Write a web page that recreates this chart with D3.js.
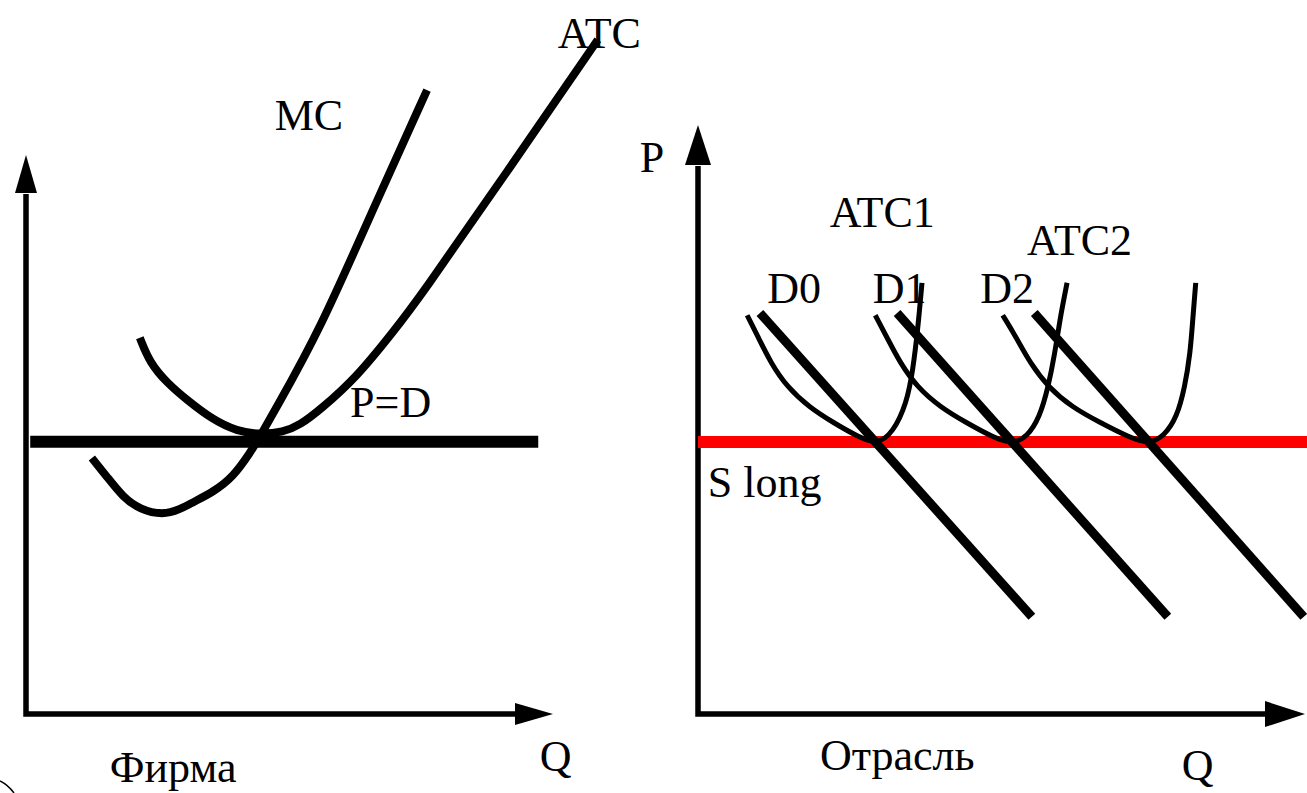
<!DOCTYPE html>
<html>
<head>
<meta charset="utf-8">
<script src="https://cdn.jsdelivr.net/npm/d3@7"></script>
<style>
  html, body { margin: 0; padding: 0; background: #fff; }
  svg { display: block; }
</style>
</head>
<body>
<div class="content"></div>
<script>
// Page size
var width = 1307,
    height = 793;

// ---- Firm (left panel), Q and P in chart units ----
var firmPrice = 4.87;
var firmPriceQ = [0.08, 9.72];

var mcQ = [1.25, 1.54, 1.84, 2.16, 2.60, 2.92, 3.17, 3.55, 3.93, 4.25, 4.44, 4.69, 5.58, 6.62, 7.61];
var mcP = [4.58, 4.24, 3.88, 3.66, 3.56, 3.66, 3.79, 3.97, 4.24, 4.67, 4.96, 5.38, 6.87, 9.11, 11.16];

var atcQ = [2.16, 2.35, 2.68, 3.05, 3.55, 4.00, 4.44, 4.88, 5.20, 5.58, 6.28, 6.96, 7.44, 9.15, 10.85];
var atcP = [6.73, 6.28, 5.92, 5.62, 5.26, 5.06, 5.00, 5.04, 5.17, 5.44, 6.03, 6.83, 7.41, 9.73, 12.06];

// ---- Industry (right panel) ----
var sLongPrice = 4.62;
var sLongQ = [0, 10.05];

var demandNames = ["D0", "D1", "D2"];
var demandQ = [[1.02, 5.50], [3.28, 7.74], [5.54, 9.98]];
var demandP = [[6.81, 1.65], [6.81, 1.65], [6.81, 1.65]];

var costQ = [
  [0.81, 0.99, 1.20, 1.47, 1.83, 2.24, 2.65, 2.95, 3.21, 3.44, 3.54, 3.62, 3.69],
  [2.92, 3.11, 3.33, 3.61, 3.99, 4.43, 4.86, 5.17, 5.42, 5.63, 5.77, 5.88, 5.96, 6.08],
  [5.02, 5.24, 5.47, 5.77, 6.16, 6.64, 7.10, 7.43, 7.68, 7.89, 8.02, 8.11, 8.15, 8.20]
];
var costP = [
  [6.77, 6.40, 5.96, 5.55, 5.21, 4.94, 4.70, 4.58, 4.77, 5.28, 5.84, 6.52, 7.32],
  [6.77, 6.40, 5.96, 5.55, 5.21, 4.94, 4.70, 4.58, 4.70, 5.04, 5.55, 6.13, 6.69, 7.32],
  [6.77, 6.40, 5.96, 5.55, 5.21, 4.94, 4.70, 4.58, 4.72, 5.04, 5.55, 6.13, 6.69, 7.32]
];

// ---- Labels (text, anchor in chart units) ----
var firmLabels = [
  {text: "ATC", q: 10.09, p: 11.91},
  {text: "MC", q: 4.72, p: 10.45},
  {text: "P=D", q: 6.15, p: 5.32},
  {text: "Фирма", q: 1.59, p: -1.22},
  {text: "Q", q: 9.75, p: -1.02}
];
var industryLabels = [
  {text: "P", q: -0.96, p: 9.20},
  {text: "ATC1", q: 2.17, p: 8.27},
  {text: "ATC2", q: 5.42, p: 7.79},
  {text: "D0", q: 1.14, p: 6.98},
  {text: "D1", q: 2.88, p: 6.98},
  {text: "D2", q: 4.65, p: 6.98},
  {text: "S long", q: 0.16, p: 3.68},
  {text: "Отрасль", q: 2.01, p: -0.95},
  {text: "Q", q: 7.97, p: -1.12}
];

var svg = d3.select(".content").append("svg")
    .attr("width", width)
    .attr("height", height);

// Scales for each panel
var xFirm = d3.scaleLinear().domain([0, 10]).range([26, 553]);
var yFirm = d3.scaleLinear().domain([0, 10]).range([714, 155]);
var xInd = d3.scaleLinear().domain([0, 10]).range([698, 1305]);
var yInd = d3.scaleLinear().domain([0, 10]).range([714, 125]);

function zipPts(qs, ps) {
  return qs.map(function(q, i) { return [q, ps[i]]; });
}

// draws both axes with their arrowheads
function drawAxes(x, y, headLen, headHalf) {
  var g = svg.append("g");
  var tip = y(10), base = tip + headLen;
  var tipX = x(10), baseX = tipX - headLen;
  g.append("path")
    .attr("d", "M" + x(0) + "," + (base + 1) + "L" + x(0) + "," + y(0) + "L" + (baseX + 1) + "," + y(0))
    .attr("fill", "none")
    .attr("stroke", "#000")
    .attr("stroke-width", 5.5)
    .attr("stroke-linejoin", "miter");
  // arrow on P axis
  g.append("path")
    .attr("d", "M" + x(0) + "," + tip + "L" + (x(0) - headHalf) + "," + base + "L" + (x(0) + headHalf) + "," + base + "Z")
    .attr("fill", "#000");
  // arrow on Q axis
  g.append("path")
    .attr("d", "M" + tipX + "," + y(0) + "L" + baseX + "," + (y(0) - headHalf) + "L" + baseX + "," + (y(0) + headHalf) + "Z")
    .attr("fill", "#000");
}

drawAxes(xFirm, yFirm, 38, 11);
drawAxes(xInd, yInd, 40, 13);

// ---- Firm panel ----
var firmLine = d3.line()
  .x(function(d) { return xFirm(d[0]); })
  .y(function(d) { return yFirm(d[1]); });
var firmCurve = d3.line()
  .x(function(d) { return xFirm(d[0]); })
  .y(function(d) { return yFirm(d[1]); })
  .curve(d3.curveBasis);

svg.append("path")
  .attr("d", firmLine([[firmPriceQ[0], firmPrice], [firmPriceQ[1], firmPrice]]))
  .attr("stroke", "#000")
  .attr("stroke-width", 12)
  .attr("fill", "none");

svg.append("path")
  .attr("d", firmCurve(zipPts(mcQ, mcP)))
  .attr("stroke", "#000")
  .attr("stroke-width", 8)
  .attr("fill", "none");

svg.append("path")
  .attr("d", firmCurve(zipPts(atcQ, atcP)))
  .attr("stroke", "#000")
  .attr("stroke-width", 8)
  .attr("fill", "none");

var fontFam = "'Liberation Serif', 'Times New Roman', Tinos, 'DejaVu Serif', serif";

svg.selectAll("firmLabels")
  .data(firmLabels)
  .enter()
  .append("text")
    .attr("x", function(d) { return xFirm(d.q); })
    .attr("y", function(d) { return yFirm(d.p); })
    .attr("font-family", fontFam)
    .attr("font-size", 44)
    .text(function(d) { return d.text; });

// ---- Industry panel ----
var indLine = d3.line()
  .x(function(d) { return xInd(d[0]); })
  .y(function(d) { return yInd(d[1]); });
var indCurve = d3.line()
  .x(function(d) { return xInd(d[0]); })
  .y(function(d) { return yInd(d[1]); })
  .curve(d3.curveBasis);

// long-run supply (red)
svg.append("path")
  .attr("d", indLine([[sLongQ[0], sLongPrice], [sLongQ[1], sLongPrice]]))
  .attr("stroke", "#ff0000")
  .attr("stroke-width", 12)
  .attr("fill", "none");

// U-shaped cost curves
svg.selectAll("costCurves")
  .data(costQ)
  .enter()
  .append("path")
    .attr("d", function(d, i) { return indCurve(zipPts(costQ[i], costP[i])); })
    .attr("stroke", "#000")
    .attr("stroke-width", 5)
    .attr("fill", "none");

// demand lines
svg.selectAll("demandLines")
  .data(demandNames)
  .enter()
  .append("path")
    .attr("class", function(d) { return "demand " + d; })
    .attr("d", function(d, i) { return indLine(zipPts(demandQ[i], demandP[i])); })
    .attr("stroke", "#000")
    .attr("stroke-width", 9)
    .attr("fill", "none");

svg.selectAll("indLabels")
  .data(industryLabels)
  .enter()
  .append("text")
    .attr("x", function(d) { return xInd(d.q); })
    .attr("y", function(d) { return yInd(d.p); })
    .attr("font-family", fontFam)
    .attr("font-size", 44)
    .text(function(d) { return d.text; });

// small leftover arc in the bottom-left corner
svg.append("path")
  .attr("d", "M0,781 Q8,785 14,793")
  .attr("stroke", "#000")
  .attr("stroke-width", 1.5)
  .attr("fill", "none");
</script>
</body>
</html>
